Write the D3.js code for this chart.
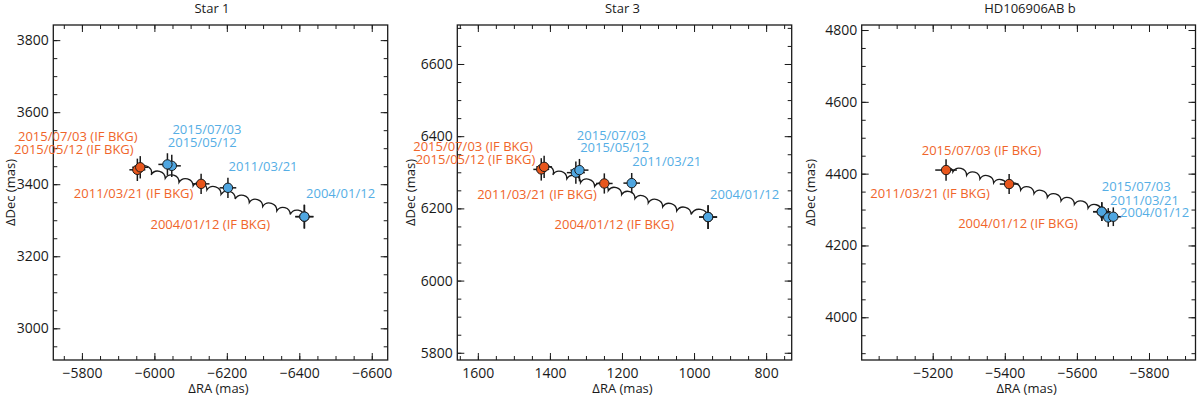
<!DOCTYPE html>
<html>
<head>
<meta charset="utf-8">
<script src="https://cdn.jsdelivr.net/npm/d3@7"></script>
<style>
  body { margin: 0; background: #fff; }
  svg text { font-family: 'Open Sans', sans-serif; }
</style>
</head>
<body>
<script>
/*global d3*/
'use strict';

var titles = ['Star 1', 'Star 3', 'HD106906AB b'];

var dates4 = ['2004/01/12', '2011/03/21', '2015/05/12', '2015/07/03'];
var dates3 = ['2004/01/12', '2011/03/21', '2015/07/03'];

// Star 1 : measured (blue) and predicted if background (orange)
var s1ObsRA = [-6414, -6203, -6048, -6036];
var s1ObsDec = [3310, 3390, 3451, 3455];
var s1ObsErrRA = [25, 23, 25, 25];
var s1ObsErrDec = [33, 28, 31, 31];
var s1BkgRA = [-6414, -6129, -5953, -5961];
var s1BkgDec = [3310, 3401, 3440, 3447];
var s1BkgErrRA = [25, 23, 22, 22];
var s1BkgErrDec = [33, 28, 31, 31];
var s1TrackRA = [-6414, -6375, -6338, -6299, -6262, -6223, -6184, -6145, -6107, -6068, -6030, -5991, -5961];
var s1TrackDec = [3310, 3316, 3326, 3338, 3349, 3359, 3372, 3384, 3395, 3405, 3416, 3426, 3447];

// Star 3
var s3ObsRA = [961, 1173, 1328, 1318];
var s3ObsDec = [6176, 6270, 6299, 6306];
var s3ObsErrRA = [25, 23, 25, 25];
var s3ObsErrDec = [33, 28, 31, 31];
var s3BkgRA = [961, 1249, 1424, 1416];
var s3BkgDec = [6176, 6269, 6308, 6315];
var s3BkgErrRA = [25, 23, 22, 22];
var s3BkgErrDec = [33, 28, 31, 31];
var s3TrackRA = [961, 1008, 1048, 1087, 1127, 1164, 1201, 1238, 1276, 1315, 1353, 1392, 1416];
var s3TrackDec = [6176, 6183, 6193, 6204, 6215, 6227, 6238, 6249, 6261, 6271, 6282, 6293, 6315];

// HD106906AB b
var bObsRA = [-5669, -5687, -5701];
var bObsDec = [4294, 4278, 4280];
var bObsErrRA = [24, 22, 22];
var bObsErrDec = [26, 26, 26];
var bBkgRA = [-5669, -5412, -5237];
var bBkgDec = [4294, 4371, 4410];
var bBkgErrRA = [24, 26, 30];
var bBkgErrDec = [26, 28, 30];
var bTrackRA = [-5669, -5631, -5593, -5556, -5518, -5481, -5444, -5406, -5369, -5331, -5294, -5256, -5237];
var bTrackDec = [4294, 4304, 4314, 4324, 4334, 4344, 4354, 4364, 4374, 4385, 4395, 4405, 4410];

// axis ranges and ticks
var xDomains = [[-5721, -6644], [1657, 729], [-5003, -5929]];
var yDomains = [[2912, 3842], [5780, 6708], [3881, 4814]];
var xTicks = [[-5800, -6000, -6200, -6400, -6600], [1600, 1400, 1200, 1000, 800], [-5200, -5400, -5600, -5800]];
var yTicks = [[3000, 3200, 3400, 3600, 3800], [5800, 6000, 6200, 6400, 6600], [4000, 4200, 4400, 4600, 4800]];

var panels = [
  {title: titles[0], dates: dates4,
   obs: {ra: s1ObsRA, dec: s1ObsDec, era: s1ObsErrRA, edec: s1ObsErrDec},
   bkg: {ra: s1BkgRA, dec: s1BkgDec, era: s1BkgErrRA, edec: s1BkgErrDec},
   track: {ra: s1TrackRA, dec: s1TrackDec}},
  {title: titles[1], dates: dates4,
   obs: {ra: s3ObsRA, dec: s3ObsDec, era: s3ObsErrRA, edec: s3ObsErrDec},
   bkg: {ra: s3BkgRA, dec: s3BkgDec, era: s3BkgErrRA, edec: s3BkgErrDec},
   track: {ra: s3TrackRA, dec: s3TrackDec}},
  {title: titles[2], dates: dates3,
   obs: {ra: bObsRA, dec: bObsDec, era: bObsErrRA, edec: bObsErrDec},
   bkg: {ra: bBkgRA, dec: bBkgDec, era: bBkgErrRA, edec: bBkgErrDec},
   track: {ra: bTrackRA, dec: bTrackDec}}
];

// layout
var frames = [
  {left: 53.3, right: 387.7, col: 0, titleX: 212},
  {left: 457.3, right: 791.7, col: 400, titleX: 622.5},
  {left: 861.7, right: 1195.5, col: 800, titleX: 1030}
];
var plotTop = 25, plotBottom = 360;

// label placement: series, index, dx, dy (to text middle), anchor
var labelLayout = [
  [['bkg', 3, -2.7, -30.6, 'end'], ['bkg', 2, -3.7, -20.4, 'end'],
   ['obs', 3, 5, -35.3, 'start'], ['obs', 2, -4, -23.4, 'start'],
   ['obs', 1, 0.6, -21, 'start'], ['bkg', 1, -7.7, 9.6, 'end'],
   ['obs', 0, 1.7, -23.4, 'start'], ['bkg', 0, -34.3, 7.6, 'end']],
  [['bkg', 3, -11.3, -20.7, 'end'], ['bkg', 2, -6, -10, 'end'],
   ['obs', 3, -2.6, -34.3, 'start'], ['obs', 2, 4.3, -25, 'start'],
   ['obs', 1, 0.6, -21.7, 'start'], ['bkg', 1, -7.6, 10.7, 'end'],
   ['obs', 0, 2, -22.4, 'start'], ['bkg', 0, -34, 7.3, 'end']],
  [['bkg', 2, -24.3, -19.7, 'start'], ['bkg', 1, -19.3, 9.4, 'end'],
   ['bkg', 0, -24, 11.7, 'end'], ['obs', 2, -11.6, -30.3, 'start'],
   ['obs', 1, 1.7, -17.4, 'start'], ['obs', 0, 18.3, 0.7, 'start']]
];

var orange = '#E8561C', orangeText = '#F0652A';
var blue = '#4FA6E0', blueText = '#55AEE5';
var ink = '#1a1a1a';

var svg = d3.select('body').append('svg')
  .attr('width', 1200)
  .attr('height', 396);

var fmt = d3.format('d');

function minors(domain) {
  var lo = Math.min(domain[0], domain[1]), hi = Math.max(domain[0], domain[1]);
  return d3.range(Math.ceil(lo / 50) * 50, hi, 50);
}

function trackPath(pts) {
  var d = 'M' + pts[0][0] + ',' + pts[0][1];
  for (var i = 1; i < pts.length; i++) {
    var a = pts[i - 1], b = pts[i];
    var r = Math.hypot(b[0] - a[0], b[1] - a[1]) * 0.52;
    d += 'A' + r + ',' + r + ' 0 0 0 ' + b[0] + ',' + b[1];
  }
  return d;
}

panels.forEach(function(p, k) {
  var f = frames[k];
  var x = d3.scaleLinear().domain(xDomains[k]).range([f.left, f.right]);
  var y = d3.scaleLinear().domain(yDomains[k]).range([plotBottom, plotTop]);
  var g = svg.append('g');

  // ticks on all four sides, pointing inward
  var xm = minors(xDomains[k]), ym = minors(yDomains[k]);
  var axes = [
    [d3.axisBottom(x).tickValues(xm).tickSize(-4).tickFormat(''), 'translate(0,' + plotBottom + ')'],
    [d3.axisTop(x).tickValues(xm).tickSize(-4).tickFormat(''), 'translate(0,' + plotTop + ')'],
    [d3.axisLeft(y).tickValues(ym).tickSize(-4).tickFormat(''), 'translate(' + f.left + ',0)'],
    [d3.axisRight(y).tickValues(ym).tickSize(-4).tickFormat(''), 'translate(' + f.right + ',0)'],
    [d3.axisTop(x).tickValues(xTicks[k]).tickSize(-7).tickFormat(''), 'translate(0,' + plotTop + ')'],
    [d3.axisRight(y).tickValues(yTicks[k]).tickSize(-7).tickFormat(''), 'translate(' + f.right + ',0)'],
    [d3.axisBottom(x).tickValues(xTicks[k]).tickSizeInner(-7).tickSizeOuter(0).tickPadding(8.5).tickFormat(fmt), 'translate(0,' + plotBottom + ')'],
    [d3.axisLeft(y).tickValues(yTicks[k]).tickSizeInner(-7).tickSizeOuter(0).tickPadding(4.5).tickFormat(fmt), 'translate(' + f.left + ',0)']
  ];
  axes.forEach(function(a) {
    var ag = g.append('g').attr('transform', a[1]).call(a[0]);
    ag.select('.domain').remove();
    ag.selectAll('line').attr('stroke', ink).attr('stroke-width', 1);
    ag.selectAll('text').attr('font-family', "'Open Sans', sans-serif")
      .attr('font-size', 14).attr('fill', ink);
  });

  g.append('rect')
    .attr('x', f.left).attr('y', plotTop)
    .attr('width', f.right - f.left).attr('height', plotBottom - plotTop)
    .attr('fill', 'none').attr('stroke', ink).attr('stroke-width', 1.3);

  // title and axis names
  g.append('text').attr('x', f.titleX).attr('y', 13)
    .attr('text-anchor', 'middle').attr('font-size', 13).attr('fill', ink)
    .text(p.title);
  g.append('text').attr('x', (f.left + f.right) / 2 - 2).attr('y', 392.5)
    .attr('text-anchor', 'middle').attr('font-size', 13).attr('fill', ink)
    .text('\u0394RA (mas)');
  g.append('text')
    .attr('transform', 'translate(' + (f.col + 15) + ',' + ((plotTop + plotBottom) / 2) + ') rotate(-90)')
    .attr('text-anchor', 'middle').attr('font-size', 13).attr('fill', ink)
    .text('\u0394Dec (mas)');

  // background track
  var pts = p.track.ra.map(function(v, i) { return [x(v), y(p.track.dec[i])]; });
  g.append('path').attr('d', trackPath(pts))
    .attr('fill', 'none').attr('stroke', ink).attr('stroke-width', 1.3);

  // points with error bars
  [['bkg', orange], ['obs', blue]].forEach(function(s) {
    var d = p[s[0]];
    var pg = g.append('g');
    d.ra.forEach(function(v, i) {
      var cx = x(v), cy = y(d.dec[i]);
      pg.append('line')
        .attr('x1', x(v - d.era[i])).attr('x2', x(v + d.era[i]))
        .attr('y1', cy).attr('y2', cy)
        .attr('stroke', ink).attr('stroke-width', 1.5);
      pg.append('line')
        .attr('x1', cx).attr('x2', cx)
        .attr('y1', y(d.dec[i] - d.edec[i])).attr('y2', y(d.dec[i] + d.edec[i]))
        .attr('stroke', ink).attr('stroke-width', 1.5);
    });
    d.ra.forEach(function(v, i) {
      pg.append('circle')
        .attr('cx', x(v)).attr('cy', y(d.dec[i])).attr('r', 4.7)
        .attr('fill', s[1]).attr('stroke', ink).attr('stroke-width', 1);
    });
  });

  // date labels
  labelLayout[k].forEach(function(l) {
    var d = p[l[0]];
    var isBkg = l[0] === 'bkg';
    g.append('text')
      .attr('x', x(d.ra[l[1]]) + l[2])
      .attr('y', y(d.dec[l[1]]) + l[3] + 4.6)
      .attr('text-anchor', l[4])
      .attr('font-size', 13)
      .attr('fill', isBkg ? orangeText : blueText)
      .text(p.dates[l[1]] + (isBkg ? ' (IF BKG)' : ''));
  });
});
</script>
</body>
</html>
